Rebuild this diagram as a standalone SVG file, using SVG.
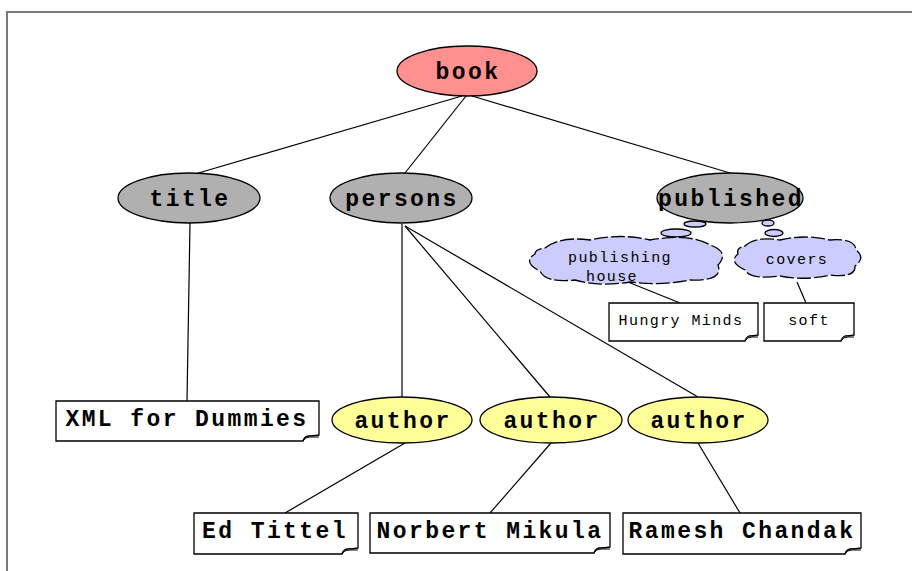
<svg xmlns="http://www.w3.org/2000/svg" width="912" height="571" viewBox="0 0 912 571">
<style>
.frame{fill:none;stroke:#7a7a7a;stroke-width:2}
.e{stroke:#000;stroke-width:1.3}
.root{fill:#ff9090}
.grey{fill:#b0b0b0}
.yel{fill:#ffff99}
.cloud{fill:#ccccff;stroke:#000;stroke-width:1.3;stroke-dasharray:14 3}
.note{fill:#fff;stroke:#000;stroke-width:1.3}
.big{font-family:"Liberation Mono","Courier New",monospace;font-weight:bold;font-size:23px;letter-spacing:2.4px;text-anchor:middle;fill:#000}
.small{font-family:"Liberation Mono","Courier New",monospace;font-size:15px;letter-spacing:1.4px;text-anchor:middle;fill:#000}
#connectors line{stroke:#000;stroke-width:1.2}
</style>
<rect width="912" height="571" fill="#fff"/>
<path class="frame" d="M7,571 V12 H912"/>
<g id="connectors">
<line x1="462" y1="96" x2="195" y2="174"/>
<line x1="466" y1="96" x2="405" y2="173"/>
<line x1="472" y1="96" x2="730" y2="173"/>
<line x1="190" y1="223" x2="187" y2="401"/>
<line x1="402" y1="224" x2="402" y2="397"/>
<line x1="405" y1="226" x2="550" y2="397"/>
<line x1="405" y1="226" x2="698" y2="397"/>
<line x1="405" y1="443" x2="285" y2="513"/>
<line x1="551" y1="443" x2="490" y2="513"/>
<line x1="698" y1="443" x2="740" y2="513"/>
<line x1="628" y1="282" x2="680" y2="303"/>
<line x1="797" y1="282" x2="806" y2="303"/>
</g>
<g id="book"><ellipse class="e root" cx="467" cy="71" rx="70" ry="25"/><text class="big" x="468" y="79">book</text></g>
<g id="title"><ellipse class="e grey" cx="189" cy="198" rx="71" ry="25"/><text class="big" x="190" y="206">title</text></g>
<g id="persons"><ellipse class="e grey" cx="401" cy="198" rx="71" ry="25"/><text class="big" x="402" y="206">persons</text></g>
<g id="published"><ellipse class="e grey" cx="730" cy="198" rx="73" ry="25"/><text class="big" x="731" y="206">published</text></g>
<g id="publishing-house">
<ellipse class="e" fill="#ccccff" cx="695" cy="224" rx="11" ry="3"/>
<ellipse class="e" fill="#ccccff" cx="676" cy="233" rx="15" ry="4"/>
<path class="cloud" d="M545,248 Q560,236 590,240 Q620,233 650,240 Q690,233 710,245 Q730,252 718,265 Q724,281 690,280 Q660,286 630,282 Q600,287 575,280 Q545,283 540,271 Q522,262 535,254 Q535,249 545,248 Z"/>
<text class="small" x="620" y="262">publishing</text>
<text class="small" x="612" y="281">house</text>
</g>
<g id="covers">
<ellipse class="e" fill="#ccccff" cx="768" cy="223" rx="6" ry="3"/>
<ellipse class="e" fill="#ccccff" cx="774" cy="233" rx="9" ry="3.5"/>
<path class="cloud" d="M745,246 Q755,236 780,240 Q805,234 830,240 Q855,238 856,250 Q866,258 855,266 Q856,278 830,275 Q805,281 780,276 Q750,280 745,270 Q728,262 738,254 Q736,248 745,246 Z"/>
<text class="small" x="797" y="264">covers</text>
</g>
<g id="hungry-minds"><path class="note" d="M609,303 H758 V335 Q754,336 749,336 Q746,337 745,341 H609 Z"/><path d="M745,341 Q747,337 752,337 H758" fill="none" stroke="#000"/><text class="small" x="681" y="325">Hungry Minds</text></g>
<g id="soft"><path class="note" d="M764,303 H854 V335 Q850,336 845,336 Q842,337 841,341 H764 Z"/><path d="M841,341 Q843,337 848,337 H854" fill="none" stroke="#000"/><text class="small" x="809" y="325">soft</text></g>
<g id="xml-for-dummies"><path class="note" d="M56,401 H319 V435 Q314,436 308,436 Q304,437 303,441 H56 Z"/><path d="M303,441 Q305,437 310,437 H319" fill="none" stroke="#000"/><text class="big" x="187" y="426">XML for Dummies</text></g>
<g id="author1"><ellipse class="e yel" cx="402" cy="420" rx="70" ry="23"/><text class="big" x="403" y="428">author</text></g>
<g id="author2"><ellipse class="e yel" cx="551" cy="420" rx="71" ry="23"/><text class="big" x="552" y="428">author</text></g>
<g id="author3"><ellipse class="e yel" cx="698" cy="420" rx="70" ry="23"/><text class="big" x="699" y="428">author</text></g>
<g id="ed-tittel"><path class="note" d="M194,513 H358 V548 Q353,549 347,549 Q343,550 342,554 H194 Z"/><path d="M342,554 Q344,550 349,550 H358" fill="none" stroke="#000"/><text class="big" x="275" y="538">Ed Tittel</text></g>
<g id="norbert-mikula"><path class="note" d="M370,513 H610 V547 Q605,548 599,548 Q595,549 594,553 H370 Z"/><path d="M594,553 Q596,549 601,549 H610" fill="none" stroke="#000"/><text class="big" x="490" y="538">Norbert Mikula</text></g>
<g id="ramesh-chandak"><path class="note" d="M623,513 H861 V548 Q856,549 850,549 Q846,550 845,554 H623 Z"/><path d="M845,554 Q847,550 852,550 H861" fill="none" stroke="#000"/><text class="big" x="742" y="538">Ramesh Chandak</text></g>
</svg>
